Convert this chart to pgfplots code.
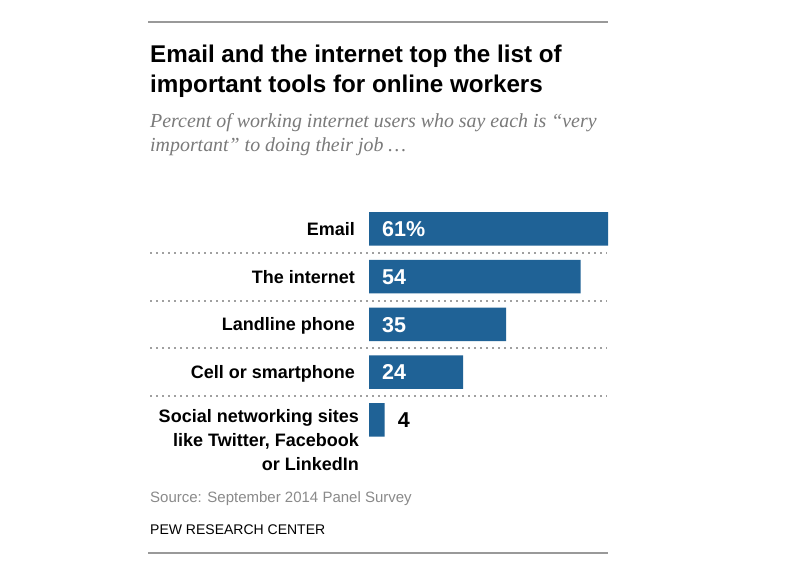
\documentclass[border=0pt]{standalone}
\usepackage{pgfplots}
\pgfplotsset{compat=1.18}
\usepackage{fontspec}
\setmainfont{Liberation Sans}
\newfontfamily\subfont{Liberation Serif}
\definecolor{pewblue}{HTML}{1F6296}
\definecolor{rulegray}{HTML}{999999}
\definecolor{subgray}{HTML}{7A7A7A}
\definecolor{srcgray}{HTML}{8A8A8A}
\definecolor{dotgray}{HTML}{A0A0A0}
\newcommand{\lab}{\fontsize{18bp}{22bp}\selectfont\bfseries}
\newcommand{\val}{\fontsize{21.5bp}{24bp}\selectfont\bfseries}
\begin{document}
\begin{tikzpicture}[x=1bp,y=1bp]
% canvas 800 x 565, y measured from top => Y = 565 - y
\fill[white] (0,0) rectangle (800,565);
% rules
\draw[rulegray, line width=1.5bp] (148,565-22) -- (608,565-22);
\draw[rulegray, line width=1.5bp] (148,565-553) -- (608,565-553);
% title
\node[anchor=base west, inner sep=0pt, font=\fontsize{24.2bp}{28bp}\selectfont\bfseries] at (150,565-63) {Email and the internet top the list of};
\node[anchor=base west, inner sep=0pt, font=\fontsize{24.2bp}{28bp}\selectfont\bfseries] at (150,565-93) {important tools for online workers};
% subtitle
\node[anchor=base west, inner sep=0pt, text=subgray, font=\fontsize{19.9bp}{24bp}\selectfont\subfont\itshape] at (150,565-128) {Percent of working internet users who say each is “very};
\node[anchor=base west, inner sep=0pt, text=subgray, font=\fontsize{19.9bp}{24bp}\selectfont\subfont\itshape] at (150,565-152) {important” to doing their job \dots};
% dotted separators
\foreach \yy in {253,301,348,396}{
  \draw[dotgray, line width=1.5bp, dash pattern=on 1.5bp off 4.5bp] (150,565-\yy) -- (607,565-\yy);
}
\begin{axis}[
  at={(369bp,359.9bp)}, anchor=north west,
  width=239bp, height=238.75bp, scale only axis,
  xmin=0, xmax=61, ymin=-0.5, ymax=4.5, y dir=reverse,
  xbar, bar width=33.5bp, bar shift=0pt,
  axis lines=none, ticks=none, clip=false,
]
\addplot[fill=pewblue, draw=none] coordinates {(61,0) (54,1) (35,2) (24,3) (4,4)};
% category labels
\node[anchor=base east, inner sep=0pt, font=\lab, yshift=-6.5bp, xshift=-14bp] at (axis cs:0,0) {Email};
\node[anchor=base east, inner sep=0pt, font=\lab, yshift=-6.5bp, xshift=-14bp] at (axis cs:0,1) {The internet};
\node[anchor=base east, inner sep=0pt, font=\lab, yshift=-6.5bp, xshift=-14bp] at (axis cs:0,2) {Landline phone};
\node[anchor=base east, inner sep=0pt, font=\lab, yshift=-6.5bp, xshift=-14bp] at (axis cs:0,3) {Cell or smartphone};
\node[anchor=base east, inner sep=0pt, font=\lab, yshift=-3bp, xshift=-10bp] at (axis cs:0,4) {Social networking sites};
\node[anchor=base east, inner sep=0pt, font=\lab, yshift=-27bp, xshift=-10bp] at (axis cs:0,4) {like Twitter, Facebook};
\node[anchor=base east, inner sep=0pt, font=\lab, yshift=-51bp, xshift=-10bp] at (axis cs:0,4) {or LinkedIn};
% value labels
\node[anchor=base west, inner sep=0pt, font=\val, text=white, yshift=-7.7bp, xshift=13bp] at (axis cs:0,0) {61\%};
\node[anchor=base west, inner sep=0pt, font=\val, text=white, yshift=-7.7bp, xshift=13bp] at (axis cs:0,1) {54};
\node[anchor=base west, inner sep=0pt, font=\val, text=white, yshift=-7.7bp, xshift=13bp] at (axis cs:0,2) {35};
\node[anchor=base west, inner sep=0pt, font=\val, text=white, yshift=-7.7bp, xshift=13bp] at (axis cs:0,3) {24};
\node[anchor=base west, inner sep=0pt, font=\val, text=black, yshift=-7.7bp, xshift=13bp] at (axis cs:4,4) {4};
\end{axis}
% source
\node[anchor=base west, inner sep=0pt, text=srcgray, font=\fontsize{15bp}{18bp}\selectfont] at (150,565-503) {Source: September 2014 Panel Survey};
\node[anchor=base west, inner sep=0pt, text=black, font=\fontsize{14bp}{18bp}\selectfont] at (150,565-535) {PEW RESEARCH CENTER};
\end{tikzpicture}
\end{document}
